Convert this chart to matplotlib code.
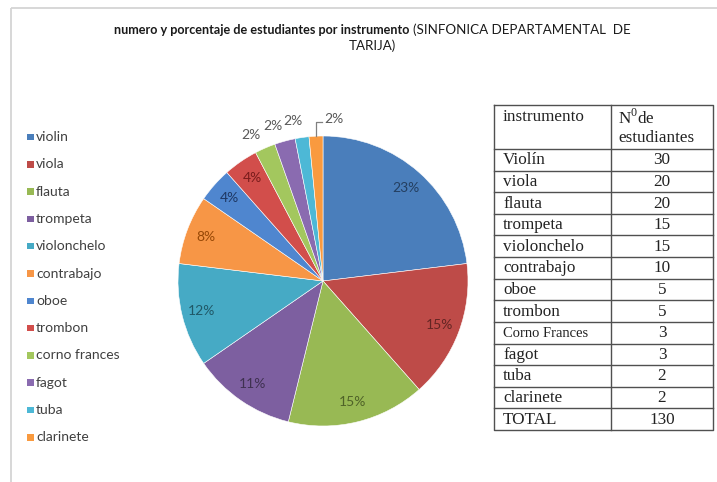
#!/usr/bin/env python3
import numpy as np
import matplotlib
matplotlib.use("Agg")
import matplotlib.pyplot as plt
import matplotlib.patches as patches

# data
instrumentos = ["violin", "viola", "flauta", "trompeta", "violonchelo", "contrabajo",
                "oboe", "trombon", "corno frances", "fagot", "tuba", "clarinete"]
estudiantes = [30, 20, 20, 15, 15, 10, 5, 5, 3, 3, 2, 2]
porcentajes = ["23%", "15%", "15%", "11%", "12%", "8%", "4%", "4%", "2%", "2%", "2%", "2%"]

tabla_nombres = ["Violín", "viola", "flauta", "trompeta", "violonchelo", "contrabajo",
                 "oboe", "trombon", "Corno Frances", "fagot", "tuba", "clarinete", "TOTAL"]
tabla_valores = ["30", "20", "20", "15", "15", "10", "5", "5", "3", "3", "2", "2", "130"]

colors = ["#4A7EBB", "#BE4B48", "#98B954", "#7D5FA0", "#46AAC5", "#F79646",
          "#4F86CF", "#D24E4B", "#A3C75E", "#8A6BB0", "#4DB8D6", "#F99A3F"]
label_colors = ["#243F60", "#632523", "#4F6228", "#3F3151", "#205867", "#974806",
                "#1F3864", "#7A1C1C"]

plt.rcParams['mathtext.fontset'] = 'custom'
plt.rcParams['mathtext.rm'] = 'Liberation Serif'

W, H = 717, 482
fig = plt.figure(figsize=(W / 100, H / 100), dpi=100)
fig.patch.set_facecolor("white")

# full-figure axes in pixel coords
bg = fig.add_axes([0, 0, 1, 1])
bg.set_xlim(0, W)
bg.set_ylim(H, 0)
bg.axis('off')

# light chart border
bg.add_patch(patches.Rectangle((11, 8), 720, 490, fill=False, ec="#D4D4D4", lw=1.3))

# title (bold + regular parts)
sans = "Lato"
bg.text(409, 30, "numero y porcentaje de estudiantes por instrumento", ha='right', va='center',
        fontsize=9.1, fontweight='bold', family=sans, color="#1a1a1a")
bg.text(413, 30, "(SINFONICA DEPARTAMENTAL  DE", ha='left', va='center',
        fontsize=9.6, family=sans, color="#1a1a1a")
bg.text(372, 46, "TARIJA)", ha='center', va='center', fontsize=9.6, family=sans, color="#1a1a1a")

# legend
for i, (name, c) in enumerate(zip(instrumentos, colors)):
    y = 137 + i * 27.3
    bg.add_patch(patches.Rectangle((27, y - 3.3), 6.5, 6.5, fc=c, ec='none'))
    bg.text(36, y, name, ha='left', va='center', fontsize=10, family=sans, color="#404040")

# pie
cx, cy, R = 323, 281, 145
ax = fig.add_axes([(cx - R) / W, (H - cy - R) / H, 2 * R / W, 2 * R / H])
wedges, _ = ax.pie(estudiantes, colors=colors, startangle=90, counterclock=False, radius=1,
                   wedgeprops=dict(edgecolor='white', linewidth=0.4))
ax.set_xlim(-1, 1)
ax.set_ylim(-1, 1)
ax.axis('off')

for i, w in enumerate(wedges):
    mid = np.deg2rad((w.theta1 + w.theta2) / 2)
    if i < 8:
        ax.text(0.86 * np.cos(mid), 0.86 * np.sin(mid), porcentajes[i], ha='center', va='center',
                fontsize=10, family=sans, color=label_colors[i])
    elif i < 11:
        ax.text(1.14 * np.cos(mid + 0.04), 1.12 * np.sin(mid + 0.04), porcentajes[i],
                ha='center', va='center', fontsize=10, family=sans, color="#595959")
    else:
        x0, y0 = np.cos(mid), np.sin(mid)
        ax.plot([x0, x0, x0 + 0.04], [y0, 1.1, 1.1], color="#808080", lw=0.9, clip_on=False)
        ax.text(x0 + 0.06, 1.12, porcentajes[i], ha='left', va='center',
                fontsize=10, family=sans, color="#595959")

# table
serif = ["Liberation Serif", "DejaVu Serif"]
tx0, tx1, tx2 = 494, 611, 713
ty0, head = 105, 149
rh = (430 - head) / len(tabla_nombres)
line = dict(color="#505050", lw=1.0)
bg.plot([tx0, tx2, tx2, tx0, tx0], [ty0, ty0, head + rh * len(tabla_nombres),
                                       head + rh * len(tabla_nombres), ty0], **line)
bg.plot([tx1, tx1], [ty0, head + rh * len(tabla_nombres)], **line)
bg.plot([tx0, tx2], [head, head], **line)
bg.text(503, 117, "instrumento", ha='left', va='center', fontsize=12.3, family=serif, color="#222222")
bg.text(618, 118, r"N$^{\mathrm{0}}$de", ha='left', va='center', fontsize=12.3, family=serif, color="#222222")
bg.text(618, 138, "estudiantes", ha='left', va='center', fontsize=12.3, family=serif, color="#222222")
for i, (n, v) in enumerate(zip(tabla_nombres, tabla_valores)):
    top = head + i * rh
    if i > 0:
        bg.plot([tx0, tx2], [top, top], **line)
    fs = 10.5 if n == "Corno Frances" else 12.3
    bg.text(503, top + rh / 2 + 0.5, n, ha='left', va='center', fontsize=fs, family=serif, color="#222222")
    bg.text((tx1 + tx2) / 2, top + rh / 2 + 0.5, v, ha='center', va='center', fontsize=12.3,
            family=serif, color="#222222")

fig.savefig("out.png", dpi=100, facecolor="white")
